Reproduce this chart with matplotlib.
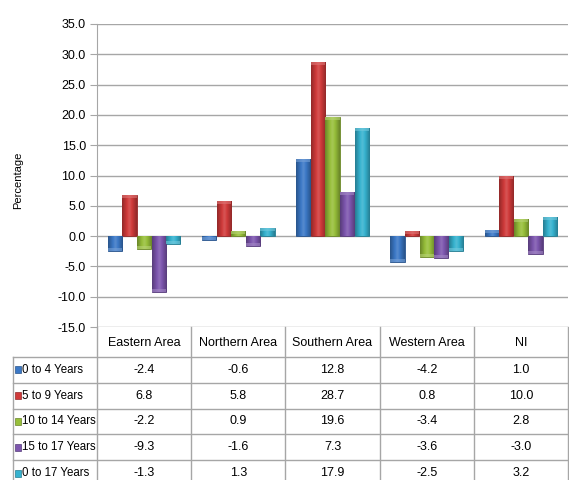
import numpy as np
import matplotlib.pyplot as plt
from matplotlib.colors import to_rgb
from matplotlib.lines import Line2D
from matplotlib.patches import Rectangle

plt.rcParams['font.family'] = ['Liberation Sans', 'DejaVu Sans']

# Change by area and age band (%)
areas = ['Eastern Area', 'Northern Area', 'Southern Area', 'Western Area', 'NI']
age_groups = ['0 to 4 Years', '5 to 9 Years', '10 to 14 Years', '15 to 17 Years', '0 to 17 Years']
age_0_4 = [-2.4, -0.6, 12.8, -4.2, 1.0]
age_5_9 = [6.8, 5.8, 28.7, 0.8, 10.0]
age_10_14 = [-2.2, 0.9, 19.6, -3.4, 2.8]
age_15_17 = [-9.3, -1.6, 7.3, -3.6, -3.0]
age_0_17 = [-1.3, 1.3, 17.9, -2.5, 3.2]
series = [age_0_4, age_5_9, age_10_14, age_15_17, age_0_17]
colors = ['#3b78c6', '#d03a3a', '#97bf3a', '#7d56ae', '#36b2cf']
yticks = np.arange(-15, 36, 5)

W, H = 569, 480
fig = plt.figure(figsize=(W / 100, H / 100), dpi=100)
L, R, T, B = 97, 568, 24, 327
ax = fig.add_axes([L / W, 1 - B / H, (R - L) / W, (B - T) / H])

grid_c = '#a6a6a6'
fs = 9
x = np.arange(len(areas))
w = 0.155


def shade(c, f):
    c = np.array(to_rgb(c))
    if f >= 1:
        return c + (1 - c) * (f - 1)
    return c * f


for i, (vals, c) in enumerate(zip(series, colors)):
    bars = ax.bar(x + (i - 2) * w, vals, w * 0.97, color=c, zorder=3,
                  edgecolor=shade(c, 0.7), linewidth=0.6)
    # horizontal shading across each bar
    prof = np.concatenate([np.linspace(0.72, 1.12, 8), np.linspace(1.12, 0.72, 8)])
    grad = np.array([[shade(c, f) for f in prof]])
    for b in bars:
        x0, y0 = b.get_x(), b.get_y()
        bw, bh = b.get_width(), b.get_height()
        ylo, yhi = min(y0, y0 + bh), max(y0, y0 + bh)
        im = ax.imshow(grad, extent=(x0, x0 + bw, ylo, yhi), aspect='auto',
                       zorder=3.5, interpolation='bilinear')
        im.set_clip_path(b)
        # lighter cap at the bar end
        cap = 0.5 if bh >= 0 else -0.5
        ax.add_patch(Rectangle((x0, y0 + bh - cap), bw, cap,
                               color=shade(c, 1.3), alpha=0.6, zorder=4, lw=0))

ax.set_xlim(-0.5, len(areas) - 0.5)
ax.set_ylim(-15, 35)
ax.set_yticks(yticks)
ax.set_yticklabels([f'{v:.1f}' for v in yticks], fontsize=fs)
ax.set_xticks([])
ax.yaxis.grid(True, color=grid_c, lw=1, zorder=0)
for s in ['top', 'right', 'bottom']:
    ax.spines[s].set_visible(False)
ax.spines['left'].set_color(grid_c)
ax.tick_params(axis='y', length=5, color=grid_c, pad=3)
fig.text(18 / W, 1 - 180 / H, 'Percentage', rotation=90, ha='center', va='center',
         fontsize=8)

# data table under the plot
def fy(py):
    return 1 - py / H


def fx(px):
    return px / W


col_w = (R - L) / len(areas)
head_top, head_bot = B, 357
row_h = 25.8
lab_l = 13
lw = 1.0
rows_bot = head_bot + row_h * len(age_groups)

# left axis line runs down through the table
fig.add_artist(Line2D([fx(L), fx(L)], [fy(head_top), fy(rows_bot)], color=grid_c, lw=lw))
for k in range(1, len(areas) + 1):
    xp = L + k * col_w
    fig.add_artist(Line2D([fx(xp), fx(xp)], [fy(head_top), fy(rows_bot)], color=grid_c, lw=lw))
fig.add_artist(Line2D([fx(lab_l), fx(lab_l)], [fy(head_bot), fy(rows_bot)], color=grid_c, lw=lw))
for r in range(len(age_groups) + 1):
    yp = head_bot + r * row_h
    fig.add_artist(Line2D([fx(lab_l), fx(R)], [fy(yp), fy(yp)], color=grid_c, lw=lw))

for k, a in enumerate(areas):
    fig.text(fx(L + (k + 0.5) * col_w), fy((head_top + head_bot) / 2 + 1), a,
             ha='center', va='center', fontsize=fs)

for r, (g, vals, c) in enumerate(zip(age_groups, series, colors)):
    yc = head_bot + (r + 0.5) * row_h
    fig.patches.append(Rectangle((fx(15), fy(yc + 3.5)), 6 / W, 7 / H,
                                 transform=fig.transFigure, facecolor=c,
                                 edgecolor=shade(c, 0.7), lw=0.5))
    fig.text(fx(22), fy(yc), g, ha='left', va='center', fontsize=8.3)
    for k, v in enumerate(vals):
        fig.text(fx(L + (k + 0.5) * col_w), fy(yc), f'{v:.1f}',
                 ha='center', va='center', fontsize=fs)

fig.savefig('out.png', dpi=100)
